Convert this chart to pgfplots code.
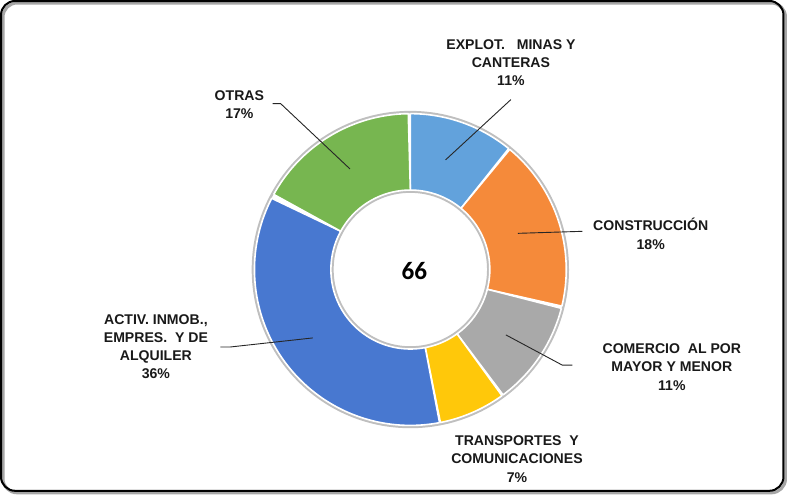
\documentclass[border=0pt]{standalone}
\usepackage{pgfplots}
\pgfplotsset{compat=1.18}
\usepackage{pgfplotstable}
\usepackage{fontspec}
\setmainfont{Liberation Sans}
\newfontfamily\numfont{Carlito}
\definecolor{slice0}{HTML}{62A2DC}
\definecolor{slice1}{HTML}{F58A3A}
\definecolor{slice2}{HTML}{A9A9A9}
\definecolor{slice3}{HTML}{FFC80A}
\definecolor{slice4}{HTML}{4878D0}
\definecolor{slice5}{HTML}{77B650}

\pgfplotstableread{
share
11
18
11
7
36
17
}\shares

% #1 start angle, #2 end angle, #3 colour
\newcommand\ring[3]{%
\addplot[fill=#3, draw=white, line width=1.6bp, line join=round, domain=0:3, samples=241, variable=\t]
 ({412 + (\t<1 ? 155*cos((#1)+((#2)-(#1))*\t) : (\t<2 ? 79*cos((#2)+((#1)-(#2))*(\t-1)) : (79+76*(\t-2))*cos(#1)))},
  {225 + (\t<1 ? 155*sin((#1)+((#2)-(#1))*\t) : (\t<2 ? 79*sin((#2)+((#1)-(#2))*(\t-1)) : (79+76*(\t-2))*sin(#1)))});
}
\newcommand\lab{\fontsize{14bp}{18bp}\selectfont\bfseries}

\begin{document}
\begin{tikzpicture}
\begin{axis}[width=787bp,height=497bp,scale only axis,
  xmin=0,xmax=787,ymin=0,ymax=497,axis lines=none,clip=false]
% frame
\draw[black!35, line width=3bp, rounded corners=14bp] (axis cs:7,3) rectangle (axis cs:785,490);
\draw[black, line width=2bp, rounded corners=14bp] (axis cs:5,5) rectangle (axis cs:783,492);
% soft outline of the ring
\draw[black!25, line width=2.5bp] (axis cs:412,225) circle[radius=156.5bp];
\draw[black!25, line width=2.5bp] (axis cs:412,225) circle[radius=77.5bp];
\def\cum{0}
\pgfplotsforeachungrouped \i in {0,...,5}{%
  \pgfplotstablegetelem{\i}{share}\of\shares
  \pgfmathsetmacro\a{90-3.6*\cum}%
  \pgfmathsetmacro\newcum{\cum+\pgfplotsretval}%
  \pgfmathsetmacro\b{90-3.6*\newcum}%
  \edef\temp{\noexpand\ring{\a}{\b}{slice\i}}%
  \temp
  \let\cum\newcum
}
% leader lines
\addplot[black!85, line width=0.9bp] coordinates {(275,390) (283,390) (352,325)};
\addplot[black!85, line width=0.9bp] coordinates {(512,394) (447,334)};
\addplot[black!85, line width=0.9bp] coordinates {(583,263) (519,261)};
\addplot[black!85, line width=0.9bp] coordinates {(573,130) (563,130) (507,160)};
\addplot[black!85, line width=0.9bp] coordinates {(223,148) (233,148) (315,157)};
% labels
\node[align=center, font=\lab, text=black!90] at (axis cs:242,389) {OTRAS\\17\%};
\node[align=center, font=\lab, text=black!90] at (axis cs:512,430.5) {EXPLOT.\ \ \ MINAS Y\\CANTERAS\\11\%};
\node[align=center, font=\lab, text=black!90] at (axis cs:651,260.5) {CONSTRUCCIÓN\\18\%};
\node[align=center, font=\lab, text=black!90] at (axis cs:672,128) {COMERCIO\ \ AL POR\\MAYOR Y MENOR\\11\%};
\node[align=center, font=\lab, text=black!90] at (axis cs:518,36.5) {TRANSPORTES\ \ Y\\COMUNICACIONES\\7\%};
\node[align=center, font=\lab, text=black!90] at (axis cs:159,148) {ACTIV. INMOB.,\\EMPRES.\ \ Y DE\\ALQUILER\\36\%};
\node[font=\numfont\bfseries\fontsize{25bp}{30bp}\selectfont] at (axis cs:416,224) {66};
\end{axis}
\end{tikzpicture}
\end{document}
